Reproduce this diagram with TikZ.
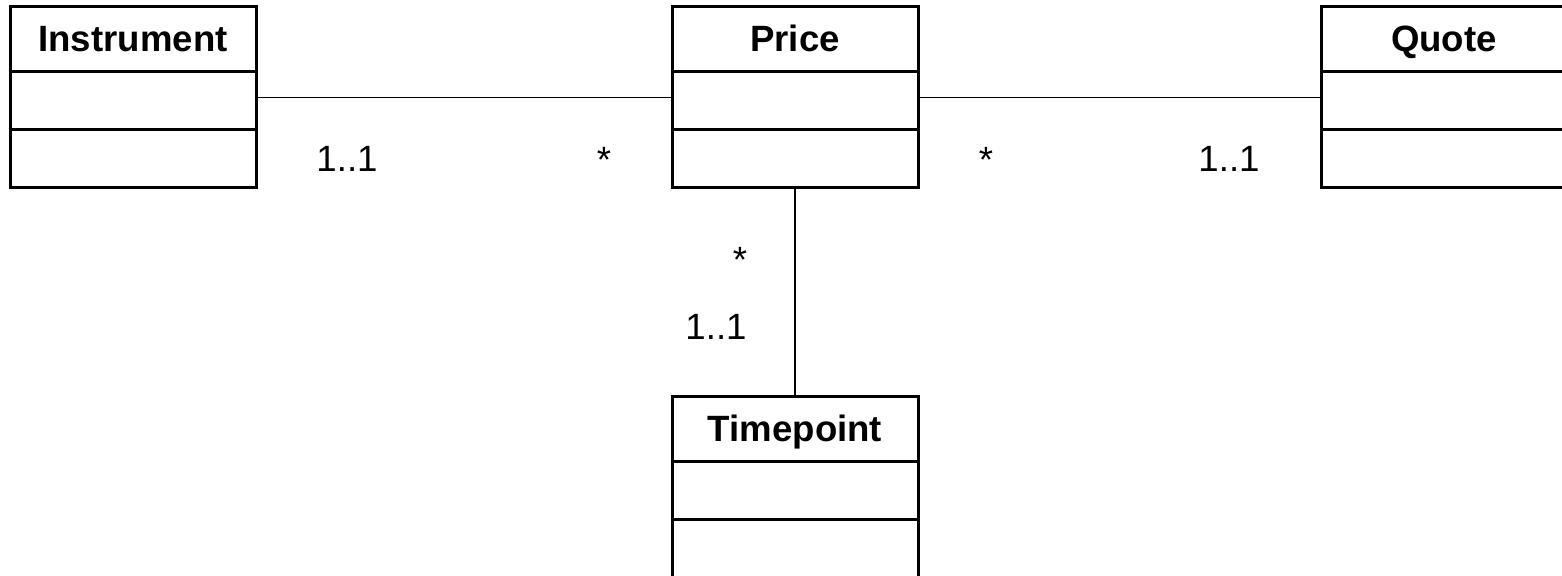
\documentclass[tikz,border=0pt]{standalone}
\usepackage{fontspec}
\setmainfont{Liberation Sans}
\usepackage{tikz}
\usetikzlibrary{calc}
\newcommand{\umlclass}[3]{%
    \node[classbox] (#1) at (#2) {};
    \node[classtitle] (#1-title) at ($(#1.north)+(0,46)$) {#3};
    \draw[line width=1.5pt] ($(#1.north west)+(0,66)$)--($(#1.north east)+(0,66)$);
    \draw[line width=1.5pt] ($(#1.north west)+(0,124)$)--($(#1.north east)+(0,124)$);
}

\begin{document}
\begin{tikzpicture}[x=0.5pt,y=-0.5pt,
        classbox/.style={draw,line width=1.5pt,minimum width=123pt,minimum height=90.5pt,inner sep=0pt},
        classtitle/.style={anchor=base,font=\fontsize{18.3}{20}\selectfont\bfseries},
        mult/.style={anchor=base,font=\fontsize{18.3}{20}\selectfont}]
        \useasboundingbox (0,0) rectangle (1562,576);
        \umlclass{instr}{133,97.5}{Instrument}
        \umlclass{price}{795,97.5}{Price}
        \umlclass{quote}{1444,97.5}{Quote}
        \umlclass{time}{795,487.5}{Timepoint}
        % associations
        \draw[line width=0.7pt] (instr.east)--(price.west);
        \draw[line width=0.7pt] (price.east)--(quote.west);
        \draw[line width=0.7pt] (price.south)--(time.north);
        % multiplicities
        \node[mult] (m1) at (347,172) {1..1};
        \node[mult] (m2) at (604,173) {*};
        \node[mult] (m3) at (986,173) {*};
        \node[mult] (m4) at (1229,172) {1..1};
        \node[mult] (m5) at (740,273) {*};
        \node[mult] (m6) at (716,340) {1..1};
    \end{tikzpicture}
\end{document}
